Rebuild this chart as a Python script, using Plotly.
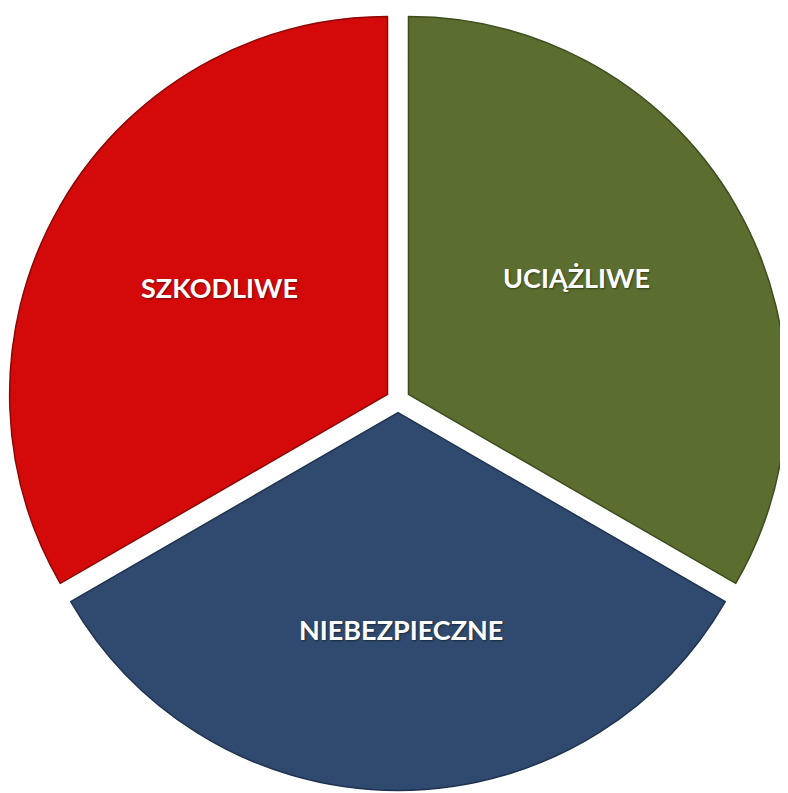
import plotly.graph_objects as go

labels = ["UCIĄŻLIWE", "NIEBEZPIECZNE", "SZKODLIWE"]
values = [1, 1, 1]
colors = ["#5B6E2F", "#2F4A6E", "#D40A0A"]
edge_colors = ["#3E4C1F", "#1F3350", "#8E0606"]
# label centres in window pixels
label_px = [(576, 278), (401, 629), (220, 288)]

# page body has an 8px margin; size figure to the remaining area
OFF = 8
W, H = 780, 785

fig = go.Figure(go.Pie(
    labels=labels,
    values=values,
    sort=False,
    direction="clockwise",
    rotation=0,
    pull=[0.032, 0.032, 0.032],
    textinfo="none",
    hoverinfo="label",
    marker=dict(colors=colors, line=dict(color=edge_colors, width=1.5)),
    domain=dict(x=[0.0, 1.0], y=[0.0, 1.0]),
    showlegend=False,
))

for lab, (px, py) in zip(labels, label_px):
    fig.add_annotation(
        x=(px - OFF) / W, y=1 - (py - OFF) / H, xref="paper", yref="paper",
        text=f"<b>{lab}</b>", showarrow=False,
        xanchor="center", yanchor="middle",
        font=dict(family="Lato", size=27, color="white",
                  shadow="1px 1px 2px rgba(0,0,0,0.45)"),
    )

fig.update_layout(
    width=W, height=H,
    margin=dict(l=0, r=0, t=0, b=0),
    paper_bgcolor="white",
    plot_bgcolor="white",
)

fig.write_html("out.html")
